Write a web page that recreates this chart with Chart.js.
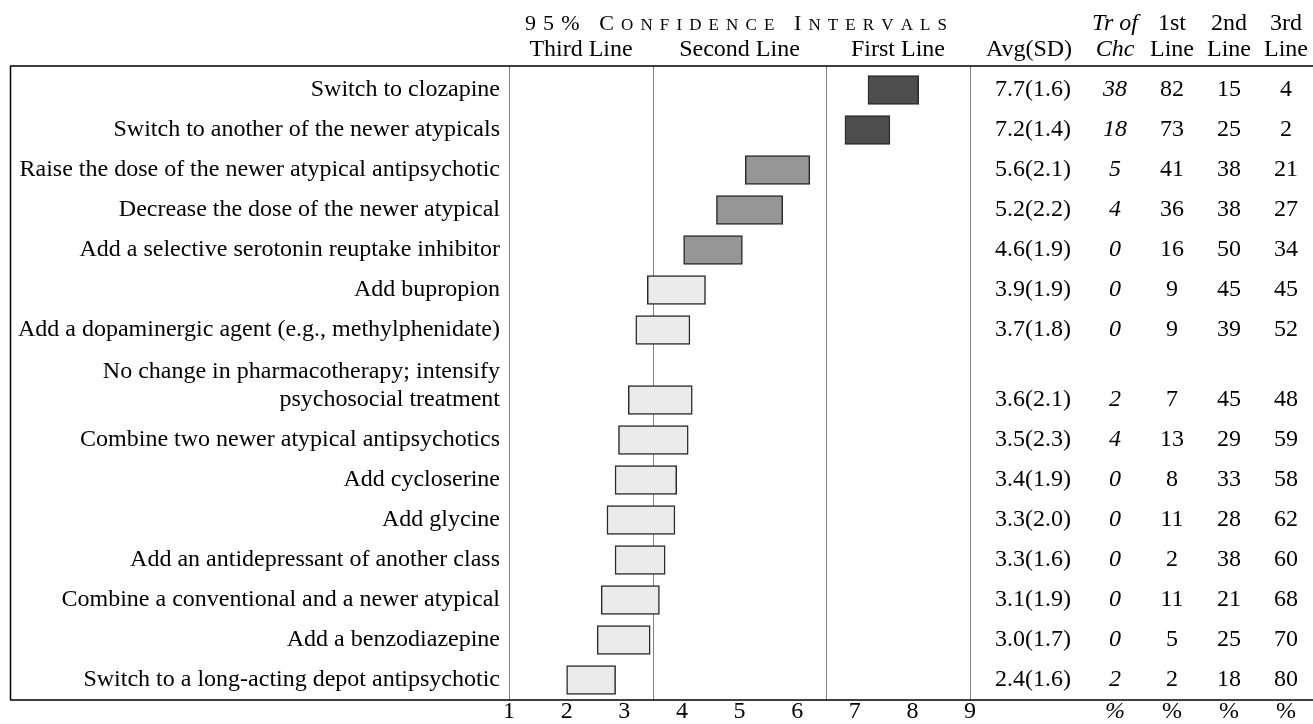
<!DOCTYPE html>
<html>
<head>
<meta charset="utf-8">
<script src="https://cdn.jsdelivr.net/npm/chart.js@4"></script>
<style>
  html, body { margin: 0; padding: 0; background: #fff; overflow: hidden; }
  #wrap { width: 1313px; height: 724px; position: relative; }
</style>
</head>
<body>
<div id="wrap"><canvas id="chart"></canvas></div>
<script>
// treatment options (rows, top to bottom)
const options = [
  'Switch to clozapine',
  'Switch to another of the newer atypicals',
  'Raise the dose of the newer atypical antipsychotic',
  'Decrease the dose of the newer atypical',
  'Add a selective serotonin reuptake inhibitor',
  'Add bupropion',
  'Add a dopaminergic agent (e.g., methylphenidate)',
  ['No change in pharmacotherapy; intensify', 'psychosocial treatment'],
  'Combine two newer atypical antipsychotics',
  'Add cycloserine',
  'Add glycine',
  'Add an antidepressant of another class',
  'Combine a conventional and a newer atypical',
  'Add a benzodiazepine',
  'Switch to a long-acting depot antipsychotic'
];

// 95% confidence intervals
const ciLow  = [7.23, 6.83, 5.10, 4.60, 4.03, 3.40, 3.20, 3.07, 2.90, 2.84, 2.70, 2.84, 2.60, 2.53, 2.00];
const ciHigh = [8.11, 7.61, 6.22, 5.75, 5.05, 4.41, 4.14, 4.18, 4.11, 3.91, 3.88, 3.71, 3.61, 3.45, 2.85];

// table columns
const avg    = [7.7, 7.2, 5.6, 5.2, 4.6, 3.9, 3.7, 3.6, 3.5, 3.4, 3.3, 3.3, 3.1, 3.0, 2.4];
const sd     = [1.6, 1.4, 2.1, 2.2, 1.9, 1.9, 1.8, 2.1, 2.3, 1.9, 2.0, 1.6, 1.9, 1.7, 1.6];
const trChc  = [38, 18, 5, 4, 0, 0, 0, 2, 4, 0, 0, 0, 0, 0, 2];
const first  = [82, 73, 41, 36, 16, 9, 9, 7, 13, 8, 11, 2, 11, 5, 2];
const second = [15, 25, 38, 38, 50, 45, 39, 45, 29, 33, 28, 38, 21, 25, 18];
const third  = [4, 2, 21, 27, 34, 45, 52, 48, 59, 58, 62, 60, 68, 70, 80];

// rating scale and the band cut points
const scaleMin = 1, scaleMax = 9;
const bandCuts = [3.5, 6.5];
const bandNames = ['Third Line', 'Second Line', 'First Line'];

const FONT = 'Liberation Serif, Times New Roman, serif';
const FS = 24;

// two-line labels push the rows below them down
let shift = 0;
const rowPos = options.map((lab, i) => {
  const lines = Array.isArray(lab) ? lab.length : 1;
  shift += (lines - 1) * 0.75;
  return i + shift;
});

const tierColor = (lo) => lo >= bandCuts[1] ? '#4d4d4d' : (lo >= bandCuts[0] ? '#969696' : '#ebebeb');

// columns of the right-hand table (centre x)
const colAvg = 1033, colTr = 1115, col1 = 1172, col2 = 1229, col3 = 1286;

function drawSmallCaps(ctx, parts, x0, x1, y) {
  // parts: [text, big?]
  const chars = [];
  parts.forEach(([t, big]) => {
    for (const ch of t) chars.push({ ch, font: big ? `22px ${FONT}` : `17px ${FONT}` });
  });
  let natural = 0;
  chars.forEach(c => { ctx.font = c.font; c.w = ctx.measureText(c.ch).width; natural += c.w; });
  const gap = (x1 - x0 - natural) / (chars.length - 1);
  let x = x0;
  ctx.textAlign = 'left';
  ctx.textBaseline = 'alphabetic';
  chars.forEach(c => { ctx.font = c.font; ctx.fillText(c.ch, x, y); x += c.w + gap; });
}

const tablePlugin = {
  id: 'tablePlugin',
  beforeDatasetsDraw(chart) {
    const { ctx, chartArea: a, scales: { x } } = chart;
    ctx.save();
    ctx.strokeStyle = '#808080';
    ctx.lineWidth = 1;
    [scaleMin, ...bandCuts, scaleMax].forEach(v => {
      const px = Math.round(x.getPixelForValue(v)) + 0.5;
      ctx.beginPath();
      ctx.moveTo(px, a.top);
      ctx.lineTo(px, a.bottom);
      ctx.stroke();
    });
    ctx.restore();
  },
  afterDraw(chart) {
    const { ctx, chartArea: a, scales: { x, y } } = chart;
    const W = chart.width;
    ctx.save();
    // frame: top rule, bottom rule, left edge
    ctx.strokeStyle = '#000';
    ctx.lineWidth = 1.5;
    ctx.beginPath();
    ctx.moveTo(10, a.top); ctx.lineTo(W, a.top);
    ctx.moveTo(10, a.bottom); ctx.lineTo(W, a.bottom);
    ctx.moveTo(10.5, a.top); ctx.lineTo(10.5, a.bottom);
    ctx.stroke();

    ctx.fillStyle = '#000';
    // title
    drawSmallCaps(ctx, [['95%', true], [' ', true], ['C', true], ['ONFIDENCE', false], [' ', true], ['I', true], ['NTERVALS', false]],
      525, 947, 30);

    // band headings
    const cuts = [scaleMin, ...bandCuts, scaleMax];
    ctx.font = `${FS}px ${FONT}`;
    ctx.textAlign = 'center';
    ctx.textBaseline = 'alphabetic';
    bandNames.forEach((n, i) => {
      const cx = (x.getPixelForValue(cuts[i]) + x.getPixelForValue(cuts[i + 1])) / 2;
      ctx.fillText(n, cx, 56);
    });

    // column headings
    ctx.fillText('Avg(SD)', colAvg - 4, 56);
    ctx.fillText('1st', col1, 30); ctx.fillText('Line', col1, 56);
    ctx.fillText('2nd', col2, 30); ctx.fillText('Line', col2, 56);
    ctx.fillText('3rd', col3, 30); ctx.fillText('Line', col3, 56);
    ctx.font = `italic ${FS}px ${FONT}`;
    ctx.fillText('Tr of', colTr, 30);
    ctx.fillText('Chc', colTr, 56);

    // row labels and values
    ctx.textBaseline = 'middle';
    options.forEach((lab, i) => {
      const py = y.getPixelForValue(rowPos[i]);
      const lines = Array.isArray(lab) ? lab : [lab];
      ctx.font = `${FS}px ${FONT}`;
      ctx.textAlign = 'right';
      lines.forEach((ln, k) => ctx.fillText(ln, 500, py - (lines.length - 1 - k) * 28));
      ctx.textAlign = 'center';
      ctx.fillText(`${avg[i].toFixed(1)}(${sd[i].toFixed(1)})`, colAvg, py);
      ctx.fillText(String(first[i]), col1, py);
      ctx.fillText(String(second[i]), col2, py);
      ctx.fillText(String(third[i]), col3, py);
      ctx.font = `italic ${FS}px ${FONT}`;
      ctx.fillText(String(trChc[i]), colTr, py);
    });

    // percent signs under the axis line
    const py = a.bottom + 12;
    ctx.font = `italic ${FS}px ${FONT}`;
    ctx.fillText('%', colTr, py);
    ctx.font = `${FS}px ${FONT}`;
    [col1, col2, col3].forEach(cx => ctx.fillText('%', cx, py));
    ctx.restore();
  }
};

new Chart(document.getElementById('chart'), {
  type: 'bar',
  data: {
    datasets: [{
      data: ciLow.map((lo, i) => ({ x: [lo, ciHigh[i]], y: rowPos[i] })),
      backgroundColor: ciLow.map(tierColor),
      borderColor: '#2a2a2a',
      borderWidth: 1.5,
      borderSkipped: false,
      barThickness: 29
    }]
  },
  options: {
    indexAxis: 'y',
    responsive: true,
    maintainAspectRatio: false,
    animation: false,
    devicePixelRatio: 1,
    layout: { padding: { left: 509, right: 343, top: 66, bottom: 0 } },
    plugins: { legend: { display: false }, tooltip: { enabled: false } },
    scales: {
      x: {
        type: 'linear',
        min: scaleMin,
        max: scaleMax,
        grid: { display: false, drawTicks: false },
        border: { display: false },
        ticks: {
          stepSize: 1,
          padding: 0,
          color: '#000',
          font: { family: FONT, size: FS, lineHeight: 1 }
        }
      },
      y: {
        type: 'linear',
        reverse: true,
        offset: false,
        min: -0.6,
        max: 15.25,
        display: false
      }
    }
  },
  plugins: [tablePlugin]
});
</script>
</body>
</html>
